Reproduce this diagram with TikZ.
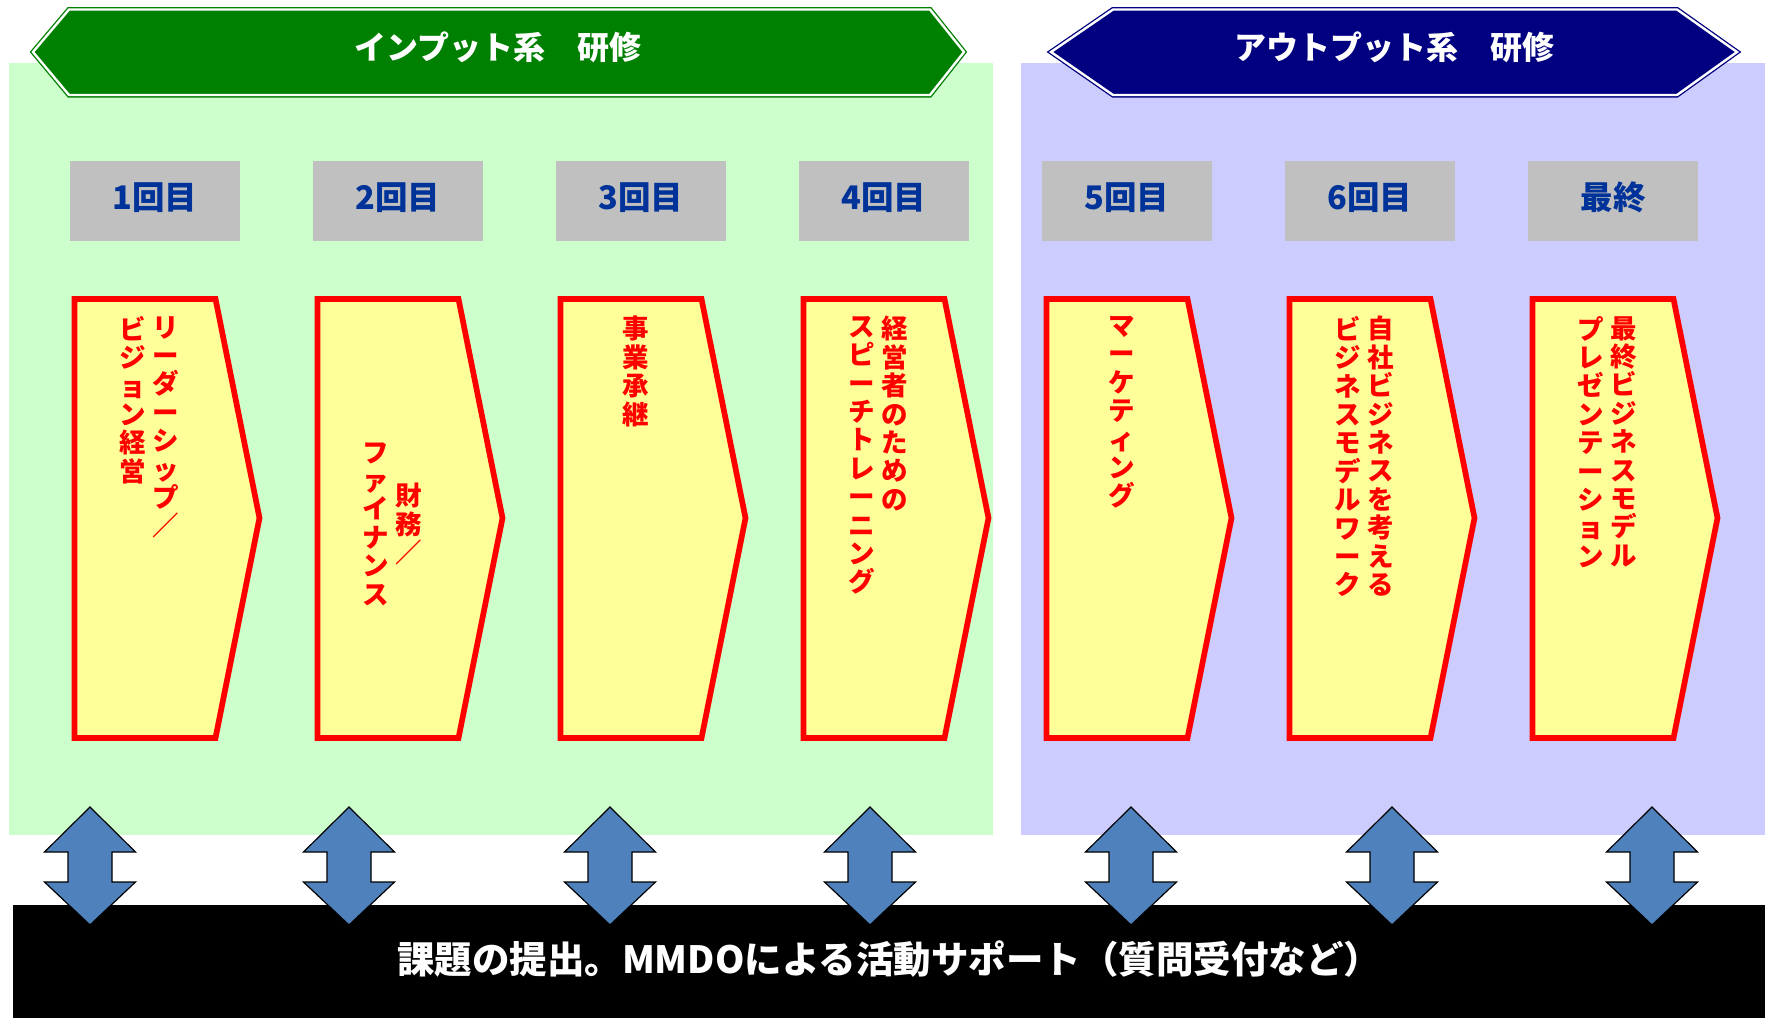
\documentclass[tikz,border=0pt]{standalone}
\usepackage{fontspec}
\newfontfamily\jp{Noto Sans CJK JP}
\definecolor{bggreen}{HTML}{CCFFCC}
\definecolor{bgblue}{HTML}{CCCCFF}
\definecolor{bannergreen}{HTML}{008000}
\definecolor{bannerblue}{HTML}{000080}
\definecolor{labelgray}{HTML}{C0C0C0}
\definecolor{labelblue}{HTML}{003399}
\definecolor{stagefill}{HTML}{FFFF99}
\definecolor{arrowblue}{HTML}{4F81BD}
\begin{document}
\begin{tikzpicture}[x=1pt,y=-1pt,
 banner/.style={line width=1.3pt, double distance=2.4pt, double=white, line join=miter},
 bannertext/.style={text=white, font=\jp\bfseries\fontsize{32}{38}\selectfont, inner sep=0},
 roundlabel/.style={fill=labelgray, minimum width=170pt, minimum height=80pt, inner sep=0},
 labeltext/.style={text=labelblue, font=\jp\bfseries\fontsize{32.5}{38}\selectfont, inner sep=0},
 stagebox/.style={draw=red, fill=stagefill, line width=5.7pt, line join=miter},
 vtext/.style={text=red, font=\jp\bfseries\fontsize{26.5}{28.4}\selectfont, align=center, inner sep=0, anchor=north},
 vtextc/.style={vtext, anchor=center},
 dblarrow/.style={fill=arrowblue, draw=black, line width=1.2pt, line join=miter},
 bartext/.style={text=white, font=\jp\bfseries\fontsize{37.5}{44}\selectfont, inner sep=0}
]
\useasboundingbox (0,0) rectangle (1765,1018);
\fill[white] (0,0) rectangle (1765,1018);
% backgrounds
\fill[bggreen] (9,63) rectangle (993,835);
\fill[bgblue] (1021,63) rectangle (1765,835);
% banners
\draw[banner, draw=bannergreen, fill=bannergreen] (33,52) -- (69,9.5) -- (930,9.5) -- (964,52) -- (930,95) -- (69,95) -- cycle;
\node[bannertext] (inputtitle) at (498,47) {インプット系　研修};
\draw[banner, draw=bannerblue, fill=bannerblue] (1051,52) -- (1113,9.5) -- (1677,9.5) -- (1737,52) -- (1677,95) -- (1113,95) -- cycle;
\node[bannertext] (outputtitle) at (1394,47) {アウトプット系　研修};
% round labels
\foreach \i/\t in {0/1回目,1/2回目,2/3回目,3/4回目,4/5回目,5/6回目,6/最終} {
  \node[roundlabel] (r\i) at (155+243*\i,201) {};
  \node[labeltext] (rt\i) at ([yshift=3.5pt]r\i.center) {\t};
}
% stage boxes
\foreach \i in {0,...,6} {
  \pgfmathsetmacro\L{74.5+243*\i}
  \draw[stagebox] (\L,299) -- ++(141,0) -- ++(44,219) -- ++(-44,220) -- ++(-141,0) -- cycle;
}
% stage texts
\node[vtext] (s1a) at (165.5,316) {リ\\ー\\ダ\\ー\\シ\\ッ\\プ\\／};
\node[vtext] (s1b) at (132.5,316) {ビ\\ジ\\ョ\\ン\\経\\営};
\node[vtextc] (s2a) at (408.5,524) {財\\務\\／};
\node[vtextc] (s2b) at (375.5,524) {フ\\ァ\\イ\\ナ\\ン\\ス};
\node[vtext] (s3a) at (636,316) {事\\業\\承\\継};
\node[vtext] (s4a) at (894.5,316) {経\\営\\者\\の\\た\\め\\の};
\node[vtext] (s4b) at (861.5,316) {ス\\ピ\\ー\\チ\\ト\\レ\\ー\\ニ\\ン\\グ};
\node[vtext] (s5a) at (1122,316) {マ\\ー\\ケ\\テ\\ィ\\ン\\グ};
\node[vtext] (s6a) at (1380.5,316) {自\\社\\ビ\\ジ\\ネ\\ス\\を\\考\\え\\る};
\node[vtext] (s6b) at (1347.5,316) {ビ\\ジ\\ネ\\ス\\モ\\デ\\ル\\ワ\\ー\\ク};
\node[vtext] (s7a) at (1623.5,316) {最\\終\\ビ\\ジ\\ネ\\ス\\モ\\デ\\ル};
\node[vtext] (s7b) at (1590.5,316) {プ\\レ\\ゼ\\ン\\テ\\ー\\シ\\ョ\\ン};
% support bar
\fill[black] (13,905) rectangle (1765,1018);
\foreach \c in {90,349,610,870,1131,1392,1652} {
  \draw[dblarrow] (\c,807) -- (\c+45.5,852) -- (\c+22,852) -- (\c+22,882) -- (\c+45.5,882) -- (\c,925) -- (\c-45.5,882) -- (\c-22,882) -- (\c-22,852) -- (\c-45.5,852) -- cycle;
}
\node[bartext] (support) at (889,959) {課題の提出。MMDOによる活動サポート（質問受付など）};
\end{tikzpicture}
\end{document}
